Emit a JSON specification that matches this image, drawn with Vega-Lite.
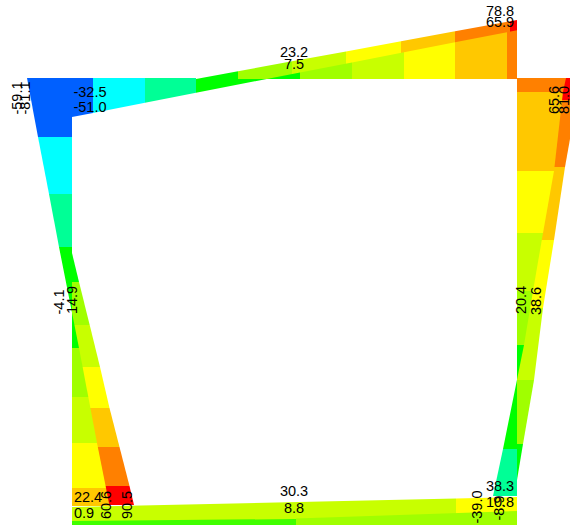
{"$schema":"https://vega.github.io/schema/vega-lite/v6.json","width":570,"height":528,"padding":0,"autosize":"none","background":"white","view":{"stroke":null},
"datasets":{"beams":[
{"s":"a1","b":"green","p":196,"base":79,"edge":79},{"s":"a1","b":"green","p":238,"base":79,"edge":71.3},
{"s":"a2","b":"lime1","p":238,"base":79,"edge":71.3},{"s":"a2","b":"lime1","p":292,"base":79,"edge":61.3},
{"s":"a3","b":"lime2","p":292,"base":79,"edge":61.3},{"s":"a3","b":"lime2","p":346,"base":79,"edge":51.4},
{"s":"a4","b":"yellow","p":346,"base":79,"edge":51.4},{"s":"a4","b":"yellow","p":401,"base":79,"edge":41.3},
{"s":"a5","b":"amber","p":401,"base":79,"edge":41.3},{"s":"a5","b":"amber","p":455,"base":79,"edge":31.3},
{"s":"a6","b":"orange","p":455,"base":79,"edge":31.3},{"s":"a6","b":"orange","p":510,"base":79,"edge":21.2},
{"s":"a7","b":"red","p":510,"base":79,"edge":21.2},{"s":"a7","b":"red","p":517,"base":79,"edge":20},
{"s":"b1","b":"blue","p":72,"base":78,"edge":117},{"s":"b1","b":"blue","p":93,"base":78,"edge":112.9},
{"s":"b2","b":"cyan","p":93,"base":78,"edge":112.9},{"s":"b2","b":"cyan","p":145,"base":78,"edge":102.8},
{"s":"b3","b":"spring","p":145,"base":78,"edge":102.8},{"s":"b3","b":"spring","p":196,"base":78,"edge":92.8},
{"s":"b4","b":"green","p":196,"base":79,"edge":92.8},{"s":"b4","b":"green","p":300,"base":79,"edge":72.5},
{"s":"b5","b":"lime1","p":300,"base":79,"edge":72.5},{"s":"b5","b":"lime1","p":352,"base":79,"edge":62.4},
{"s":"b6","b":"lime2","p":352,"base":79,"edge":62.4},{"s":"b6","b":"lime2","p":404,"base":79,"edge":52.3},
{"s":"b7","b":"yellow","p":404,"base":79,"edge":52.3},{"s":"b7","b":"yellow","p":455,"base":79,"edge":42.3},
{"s":"b8","b":"amber","p":455,"base":79,"edge":42.3},{"s":"b8","b":"amber","p":507,"base":79,"edge":32.2},
{"s":"b9","b":"orange","p":507,"base":79,"edge":32.2},{"s":"b9","b":"orange","p":517,"base":79,"edge":30.2},
{"s":"c1","b":"lime2","p":72,"base":525,"edge":507},{"s":"c1","b":"lime2","p":456,"base":525,"edge":498.4},
{"s":"c2","b":"yellow","p":456,"base":525,"edge":498.4},{"s":"c2","b":"yellow","p":517,"base":525,"edge":497},
{"s":"d1","b":"grass","p":72,"base":525,"edge":521},{"s":"d1","b":"grass","p":296,"base":525,"edge":519},
{"s":"d2","b":"lime1","p":296,"base":525,"edge":518.5},{"s":"d2","b":"lime1","p":517,"base":525,"edge":511}
],
"columns":[
{"s":"e1","b":"green","p":253,"base":72,"edge":72},{"s":"e1","b":"green","p":282,"base":72,"edge":79},
{"s":"e2","b":"lime1","p":282,"base":72,"edge":79},{"s":"e2","b":"lime1","p":325,"base":72,"edge":89.7},
{"s":"e3","b":"lime2","p":325,"base":72,"edge":89.7},{"s":"e3","b":"lime2","p":367,"base":72,"edge":100},
{"s":"e4","b":"yellow","p":367,"base":72,"edge":100},{"s":"e4","b":"yellow","p":408,"base":72,"edge":109.5},
{"s":"e5","b":"amber","p":408,"base":72,"edge":109.5},{"s":"e5","b":"amber","p":447,"base":72,"edge":119.5},
{"s":"e6","b":"orange","p":447,"base":72,"edge":119.5},{"s":"e6","b":"orange","p":486,"base":72,"edge":129.5},
{"s":"e7","b":"red","p":486,"base":72,"edge":129.5},{"s":"e7","b":"red","p":505,"base":72,"edge":134},
{"s":"f1","b":"blue","p":78,"base":72,"edge":27},{"s":"f1","b":"blue","p":137,"base":72,"edge":38},
{"s":"f2","b":"cyan","p":137,"base":72,"edge":38},{"s":"f2","b":"cyan","p":194,"base":72,"edge":49},
{"s":"f3","b":"spring","p":194,"base":72,"edge":49},{"s":"f3","b":"spring","p":247,"base":72,"edge":59},
{"s":"f4","b":"green","p":247,"base":72,"edge":59},{"s":"f4","b":"green","p":348,"base":72,"edge":79},
{"s":"f5","b":"lime1","p":348,"base":72,"edge":79},{"s":"f5","b":"lime1","p":397,"base":72,"edge":88.3},
{"s":"f6","b":"lime2","p":397,"base":72,"edge":88.3},{"s":"f6","b":"lime2","p":443,"base":72,"edge":97},
{"s":"f7","b":"yellow","p":443,"base":72,"edge":97},{"s":"f7","b":"yellow","p":488,"base":72,"edge":106},
{"s":"f8","b":"amber","p":488,"base":72,"edge":106},{"s":"f8","b":"amber","p":506,"base":72,"edge":109.5},
{"s":"g1","b":"red","p":78,"base":517,"edge":581},{"s":"g1","b":"red","p":100,"base":517,"edge":577},
{"s":"g2","b":"orange","p":100,"base":517,"edge":577},{"s":"g2","b":"orange","p":167,"base":517,"edge":565},
{"s":"g3","b":"amber","p":167,"base":517,"edge":565},{"s":"g3","b":"amber","p":240,"base":517,"edge":554},
{"s":"g4","b":"yellow","p":240,"base":517,"edge":554},{"s":"g4","b":"yellow","p":308,"base":517,"edge":543},
{"s":"g5","b":"lime2","p":308,"base":517,"edge":543},{"s":"g5","b":"lime2","p":380,"base":517,"edge":534},
{"s":"g6","b":"lime1","p":380,"base":517,"edge":534},{"s":"g6","b":"lime1","p":444,"base":517,"edge":523},
{"s":"g7","b":"green","p":444,"base":517,"edge":523},{"s":"g7","b":"green","p":480,"base":517,"edge":517},
{"s":"h1","b":"orange","p":78,"base":517,"edge":566},{"s":"h1","b":"orange","p":92,"base":517,"edge":563},
{"s":"h2","b":"amber","p":92,"base":517,"edge":563},{"s":"h2","b":"amber","p":171,"base":517,"edge":554},
{"s":"h3","b":"yellow","p":171,"base":517,"edge":554},{"s":"h3","b":"yellow","p":233,"base":517,"edge":543},
{"s":"h4","b":"lime2","p":233,"base":517,"edge":543},{"s":"h4","b":"lime2","p":291,"base":517,"edge":533},
{"s":"h5","b":"lime1","p":291,"base":517,"edge":533},{"s":"h5","b":"lime1","p":345,"base":517,"edge":524},
{"s":"h6","b":"green","p":345,"base":517,"edge":524},{"s":"h6","b":"green","p":449,"base":517,"edge":503},
{"s":"h7","b":"spring","p":449,"base":517,"edge":503},{"s":"h7","b":"spring","p":496,"base":517,"edge":493}
],
"flat":[
{"t":"23.2","x":294,"y":53},{"t":"7.5","x":294,"y":65},{"t":"78.8","x":500,"y":12},{"t":"65.9","x":500,"y":23},
{"t":"-32.5","x":90,"y":93},{"t":"-51.0","x":90,"y":108},{"t":"30.3","x":294,"y":492},{"t":"8.8","x":294,"y":509},
{"t":"22.4","x":88,"y":498},{"t":"0.9","x":84,"y":514},{"t":"38.3","x":500,"y":487},{"t":"10.8","x":500,"y":503}
],
"turned":[
{"t":"-59.1","x":18,"y":98},{"t":"-81.1","x":26,"y":98},{"t":"-4.1","x":60,"y":302},{"t":"14.9","x":73,"y":300},
{"t":"60.6","x":107,"y":505},{"t":"90.5","x":128,"y":505},{"t":"65.6","x":555,"y":100},{"t":"81.0","x":565,"y":100},
{"t":"20.4","x":522,"y":300},{"t":"38.6","x":537,"y":301},{"t":"-39.0","x":478,"y":507},{"t":"-8.9","x":500,"y":508}
]},
"layer":[
{"data":{"name":"beams"},"mark":{"type":"area","orient":"vertical","clip":true},
"encoding":{"x":{"field":"p","type":"quantitative","scale":{"domain":[0,570],"nice":false,"zero":false},"axis":null},
"y":{"field":"base","type":"quantitative","scale":{"domain":[528,0],"nice":false,"zero":false},"axis":null,"stack":null},
"y2":{"field":"edge"},"detail":{"field":"s"},
"color":{"field":"b","type":"nominal","legend":null,"scale":{"domain":["blue","cyan","spring","green","grass","lime1","lime2","yellow","amber","orange","red"],"range":["#0060ff","#00ffff","#00ff96","#00ff00","#40ff00","#a0ff00","#c8ff00","#ffff00","#ffc800","#ff8000","#ff0000"]}}}},
{"data":{"name":"columns"},"mark":{"type":"area","orient":"horizontal","clip":true},
"encoding":{"y":{"field":"p","type":"quantitative","scale":{"domain":[528,0],"nice":false,"zero":false},"axis":null},
"x":{"field":"base","type":"quantitative","scale":{"domain":[0,570],"nice":false,"zero":false},"axis":null,"stack":null},
"x2":{"field":"edge"},"detail":{"field":"s"},
"color":{"field":"b","type":"nominal","legend":null}}},
{"data":{"name":"flat"},"mark":{"type":"text","font":"Liberation Sans","fontSize":14.5,"color":"#000000","baseline":"middle","align":"center"},
"encoding":{"x":{"field":"x","type":"quantitative","axis":null},"y":{"field":"y","type":"quantitative","axis":null},"text":{"field":"t"}}},
{"data":{"name":"turned"},"mark":{"type":"text","font":"Liberation Sans","fontSize":14.5,"color":"#000000","baseline":"middle","align":"center","angle":270},
"encoding":{"x":{"field":"x","type":"quantitative","axis":null},"y":{"field":"y","type":"quantitative","axis":null},"text":{"field":"t"}}}
],
"resolve":{"scale":{"color":"shared"}}}
